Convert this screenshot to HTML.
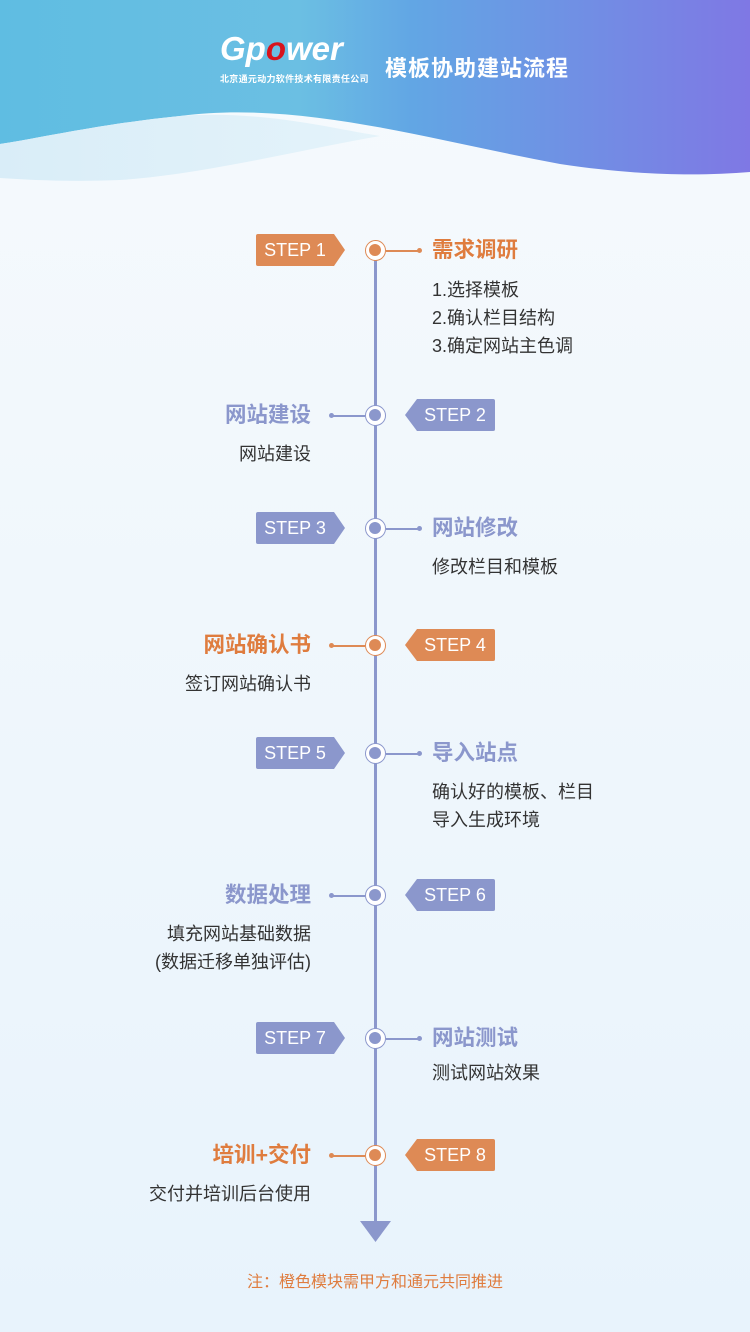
<!DOCTYPE html>
<html><head><meta charset="utf-8"><style>
*{margin:0;padding:0;box-sizing:border-box}
body{width:750px;height:1332px;position:relative;overflow:hidden;background:linear-gradient(180deg,#f6fafd 0%,#eef6fc 60%,#e8f3fc 100%);font-family:"Liberation Sans","Noto Sans CJK SC",sans-serif}
.a{position:absolute}
.badge{position:absolute;height:32px;width:90px;color:#fff;font-size:18px;line-height:32px;text-align:center;box-shadow:2px 3px 4px rgba(0,0,0,.08)}
.L{left:256px;clip-path:polygon(0 0,78px 0,89px 50%,78px 100%,0 100%);padding-right:12px;border-radius:2px}
.R{left:405px;clip-path:polygon(12px 0,100% 0,100% 100%,12px 100%,0 50%);padding-left:10px;border-radius:2px}
.o{background:#de8a55}.b{background:#8b97cc}
.dot{position:absolute;left:365px;width:21px;height:21px;border-radius:50%;background:#fff;border:1.5px solid}
.dot i{position:absolute;left:3px;top:3px;width:12px;height:12px;border-radius:50%}
.ln{position:absolute;height:1.5px}
.ln:after{content:"";position:absolute;top:-2px;width:5px;height:5px;border-radius:50%;background:inherit}
.lr{left:386px;width:34px}.lr:after{right:-2px}
.ll{left:331px;width:34px}.ll:after{left:-2px}
.t{position:absolute;font-size:21.5px;font-weight:bold;line-height:26px}
.tr{left:432px}.tl{right:439px;text-align:right}
.d{position:absolute;font-size:18px;color:#333;line-height:28px}
.dr{left:432px}.dl{right:439px;text-align:right}
</style></head><body>
<svg class="a" style="left:0;top:0" width="750" height="200">
<defs><linearGradient id="g" x1="0" x2="1"><stop offset="0" stop-color="#5fbde2"/><stop offset=".4" stop-color="#6bbfe3"/><stop offset=".55" stop-color="#62a6e4"/><stop offset="1" stop-color="#7f78e4"/></linearGradient>
<linearGradient id="g2" x1="0" x2="1"><stop offset="0" stop-color="#d9edf8"/><stop offset="1" stop-color="#e4f3fa"/></linearGradient></defs>
<path d="M0 0H750V172C700 176 640 176 560 164C430 140 300 100 180 116C100 124 40 138 0 144Z" fill="url(#g)"/>
<path d="M0 144C40 138 100 124 180 116C260 110 330 128 380 136C300 150 200 175 120 180C70 182 30 180 0 178Z" fill="url(#g2)"/>
</svg>
<div class="a" style="left:220px;top:30px;color:#fff;font-size:33px;font-weight:bold;font-style:italic">Gp<span style="color:#d8141c">o</span>wer</div>
<div class="a" style="left:220px;top:72px;color:#fff;font-size:9px;font-weight:bold;letter-spacing:.3px">北京通元动力软件技术有限责任公司</div>
<div class="a" style="left:385px;top:51px;color:#fff;font-size:22px;font-weight:bold;letter-spacing:1px">模板协助建站流程</div>

<div class="a" style="left:374px;top:250px;width:3px;height:974px;background:#8b97cc"></div>
<svg class="a" style="left:360px;top:1221px" width="31" height="22"><path d="M0 0H31L15.5 21Z" fill="#8b97cc"/></svg>

<div class="badge L o" style="top:234px">STEP 1</div>
<div class="dot" style="top:240px;border-color:#de8a55"><i style="background:#de8a55"></i></div>
<div class="ln lr" style="top:250px;background:#de8a55"></div>
<div class="t tr" style="top:237px;color:#df7c3e">需求调研</div>
<div class="d dr" style="top:276px">1.选择模板<br>2.确认栏目结构<br>3.确定网站主色调</div>

<div class="badge R b" style="top:399px">STEP 2</div>
<div class="dot" style="top:405px;border-color:#8b97cc"><i style="background:#8b97cc"></i></div>
<div class="ln ll" style="top:415px;background:#8b97cc"></div>
<div class="t tl" style="top:402px;color:#8b97cc">网站建设</div>
<div class="d dl" style="top:440px">网站建设</div>

<div class="badge L b" style="top:512px">STEP 3</div>
<div class="dot" style="top:518px;border-color:#8b97cc"><i style="background:#8b97cc"></i></div>
<div class="ln lr" style="top:528px;background:#8b97cc"></div>
<div class="t tr" style="top:515px;color:#8b97cc">网站修改</div>
<div class="d dr" style="top:553px">修改栏目和模板</div>

<div class="badge R o" style="top:629px">STEP 4</div>
<div class="dot" style="top:635px;border-color:#de8a55"><i style="background:#de8a55"></i></div>
<div class="ln ll" style="top:645px;background:#de8a55"></div>
<div class="t tl" style="top:632px;color:#df7c3e">网站确认书</div>
<div class="d dl" style="top:670px">签订网站确认书</div>

<div class="badge L b" style="top:737px">STEP 5</div>
<div class="dot" style="top:743px;border-color:#8b97cc"><i style="background:#8b97cc"></i></div>
<div class="ln lr" style="top:753px;background:#8b97cc"></div>
<div class="t tr" style="top:740px;color:#8b97cc">导入站点</div>
<div class="d dr" style="top:778px">确认好的模板、栏目<br>导入生成环境</div>

<div class="badge R b" style="top:879px">STEP 6</div>
<div class="dot" style="top:885px;border-color:#8b97cc"><i style="background:#8b97cc"></i></div>
<div class="ln ll" style="top:895px;background:#8b97cc"></div>
<div class="t tl" style="top:882px;color:#8b97cc">数据处理</div>
<div class="d dl" style="top:920px">填充网站基础数据<br>(数据迁移单独评估)</div>

<div class="badge L b" style="top:1022px">STEP 7</div>
<div class="dot" style="top:1028px;border-color:#8b97cc"><i style="background:#8b97cc"></i></div>
<div class="ln lr" style="top:1038px;background:#8b97cc"></div>
<div class="t tr" style="top:1025px;color:#8b97cc">网站测试</div>
<div class="d dr" style="top:1059px">测试网站效果</div>

<div class="badge R o" style="top:1139px">STEP 8</div>
<div class="dot" style="top:1145px;border-color:#de8a55"><i style="background:#de8a55"></i></div>
<div class="ln ll" style="top:1155px;background:#de8a55"></div>
<div class="t tl" style="top:1142px;color:#df7c3e">培训+交付</div>
<div class="d dl" style="top:1180px">交付并培训后台使用</div>

<div class="a" style="left:0;width:750px;top:1268px;text-align:center;font-size:16px;color:#df7c3e">注：橙色模块需甲方和通元共同推进</div>
</body></html>
